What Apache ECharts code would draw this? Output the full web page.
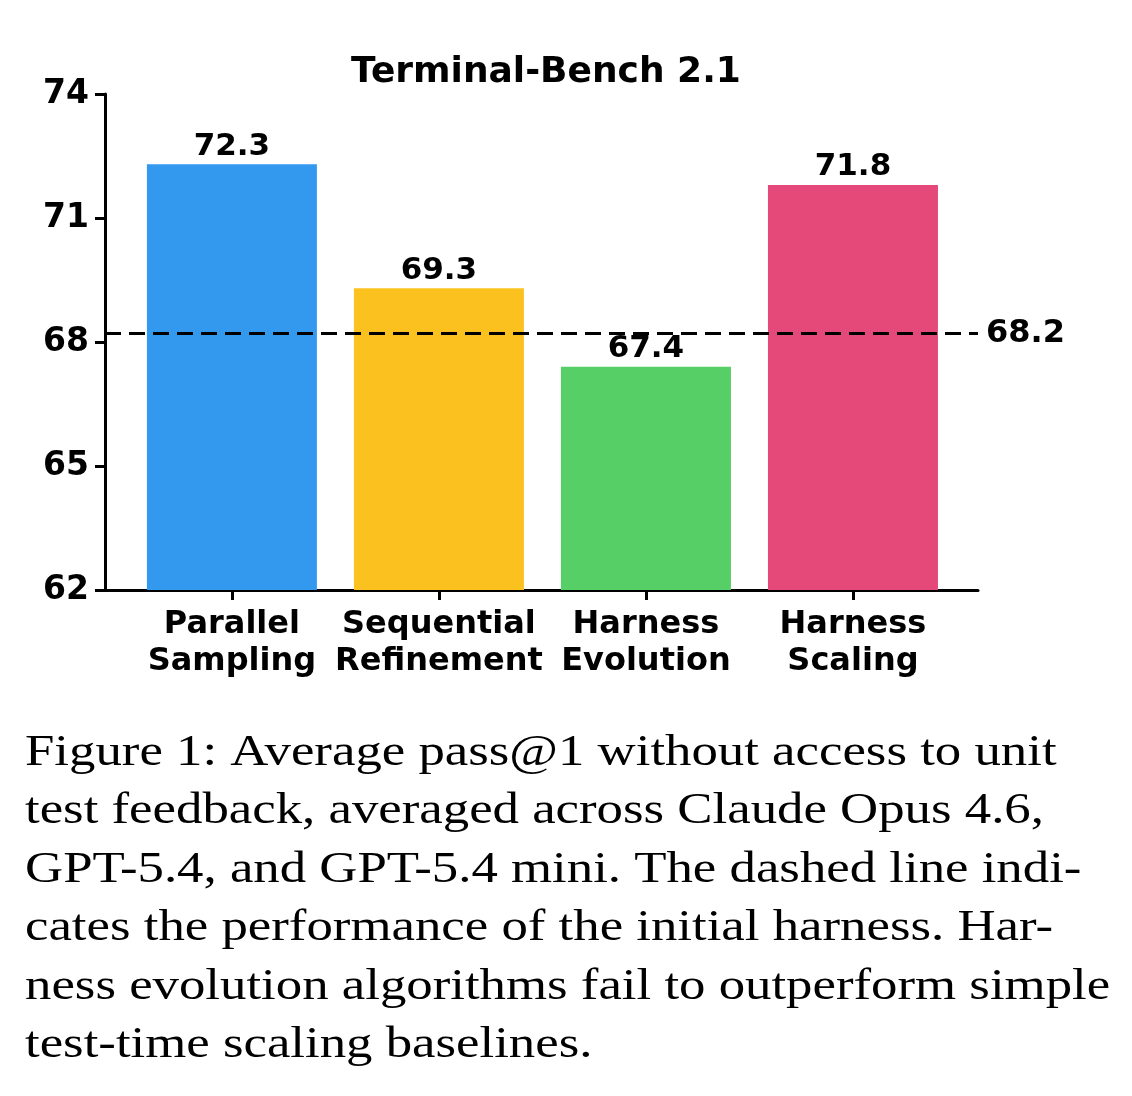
<!DOCTYPE html>
<html><head><meta charset="utf-8">
<script src="https://cdn.jsdelivr.net/npm/echarts@6/dist/echarts.min.js"></script>
<style>html,body{margin:0;padding:0;background:#fff}#c{width:1132px;height:1096px}</style>
</head><body><div id="c"></div>
<script>
var categories = ['Parallel\nSampling', 'Sequential\nRefinement', 'Harness\nEvolution', 'Harness\nScaling'];
var values = [72.3, 69.3, 67.4, 71.8];
var colors = ['#3399EE', '#FBC21F', '#55CF66', '#E4497A'];
var baseline = 68.2;
var yTicks = [62, 65, 68, 71, 74];
var caption = [
  'Figure 1: Average pass@1 without access to unit',
  'test feedback, averaged across Claude Opus 4.6,',
  'GPT-5.4, and GPT-5.4 mini. The dashed line indi-',
  'cates the performance of the initial harness. Har-',
  'ness evolution algorithms fail to outperform simple',
  'test-time scaling baselines.'
];

var chart = echarts.init(document.getElementById('c'));
var font = 'DejaVu Sans';
var graphics = [];
caption.forEach(function (t, i) {
  graphics.push({type: 'text', x: 25, y: 731 + i * 58.5, scaleX: 1.2,
    style: {text: t, font: '44px "Liberation Serif"', fill: '#000'}});
});

chart.setOption({
  animation: false,
  title: {text: 'Terminal-Bench 2.1', left: 541, top: 50, textAlign: 'center',
    textStyle: {fontFamily: font, fontWeight: 'bold', fontSize: 36, color: '#000'}},
  grid: {left: 105, right: 154, top: 94, bottom: 506},
  xAxis: {
    type: 'value', min: -0.613, max: 3.604,
    splitLine: {show: false},
    axisLine: {show: true, onZero: false, lineStyle: {color: '#000', width: 3}},
    axisTick: {show: true, length: 10, lineStyle: {color: '#000', width: 3}, customValues: [0, 1, 2, 3]},
    axisLabel: {customValues: [0, 1, 2, 3], margin: 16, lineHeight: 37,
      fontFamily: font, fontWeight: 'bold', fontSize: 32, color: '#000',
      formatter: function (v) { return categories[Math.round(v)]; }}
  },
  yAxis: {
    type: 'value', min: 62, max: 74,
    splitLine: {show: false},
    axisLine: {show: true, onZero: false, lineStyle: {color: '#000', width: 3}},
    axisTick: {show: true, length: 10, lineStyle: {color: '#000', width: 3}, customValues: yTicks},
    axisLabel: {customValues: yTicks, margin: 16, fontFamily: font, fontWeight: 'bold', fontSize: 33, color: '#000'}
  },
  series: [{
    type: 'bar', barWidth: 170,
    data: values.map(function (v, i) { return {value: [i, v], itemStyle: {color: colors[i]}}; }),
    label: {show: true, position: 'top', distance: 2, fontFamily: font, fontWeight: 'bold', fontSize: 31, color: '#000',
      formatter: function (p) { return p.value[1].toFixed(1); }},
    markLine: {
      symbol: 'none', silent: true,
      lineStyle: {color: '#000', type: [16, 8], width: 3},
      label: {show: true, position: 'end', distance: 8, fontFamily: font, fontWeight: 'bold', fontSize: 32, color: '#000',
        formatter: baseline.toFixed(1)},
      data: [{yAxis: baseline}]
    }
  }],
  graphic: graphics
});
</script></body></html>
